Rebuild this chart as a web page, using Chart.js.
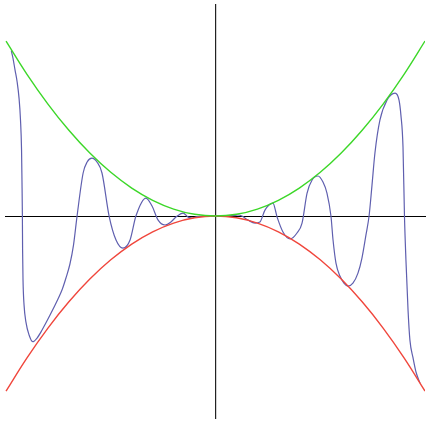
<!DOCTYPE html>
<html>
<head>
<meta charset="utf-8">
<script src="https://cdn.jsdelivr.net/npm/chart.js@4"></script>
<style>
html,body{margin:0;padding:0;background:#fff;}
canvas{display:block;}
</style>
</head>
<body>
<canvas id="c" width="429" height="425"></canvas>
<script>
// Blue oscillating curve
const waveX = [-0.975,-0.967,-0.957,-0.947,-0.938,-0.931,-0.926,-0.924,-0.922,-0.921,-0.919,-0.914,-0.905,-0.890,-0.873,-0.852,-0.828,-0.790,-0.752,-0.733,-0.714,-0.695,-0.678,-0.661,-0.632,-0.613,-0.590,-0.566,-0.542,-0.508,-0.475,-0.442,-0.408,-0.380,-0.332,-0.303,-0.274,-0.241,-0.213,-0.189,-0.155,-0.131,-0.112,-0.088,-0.050,0.000,0.045,0.084,0.107,0.126,0.155,0.189,0.212,0.236,0.274,0.294,0.322,0.356,0.389,0.413,0.437,0.461,0.489,0.513,0.532,0.551,0.561,0.575,0.594,0.613,0.632,0.656,0.680,0.699,0.718,0.733,0.747,0.761,0.785,0.819,0.857,0.876,0.885,0.895,0.902,0.909,0.919,0.928,0.943,0.957,0.976];
const waveY = [0.945,0.903,0.834,0.766,0.674,0.549,0.377,0.206,0.000,-0.194,-0.366,-0.509,-0.606,-0.680,-0.718,-0.697,-0.651,-0.566,-0.474,-0.423,-0.354,-0.274,-0.166,0.000,0.246,0.309,0.331,0.309,0.246,0.000,-0.137,-0.183,-0.137,0.000,0.103,0.057,-0.023,-0.051,-0.034,-0.006,0.017,-0.006,-0.011,-0.003,0.000,0.000,0.000,0.003,0.006,0.000,-0.023,-0.040,-0.034,0.034,0.074,-0.006,-0.091,-0.131,-0.097,-0.040,0.131,0.206,0.229,0.194,0.131,0.000,-0.137,-0.269,-0.343,-0.383,-0.400,-0.383,-0.326,-0.240,-0.109,0.000,0.177,0.360,0.549,0.663,0.703,0.663,0.577,0.394,0.000,-0.251,-0.537,-0.709,-0.811,-0.891,-0.954];
// Envelope curves
const envX = [-1.0,-0.9,-0.8,-0.7,-0.6,-0.5,-0.4,-0.3,-0.2,-0.1,0.0,0.1,0.2,0.3,0.4,0.5,0.6,0.7,0.8,0.9,1.0];
const upperY = [1.00,0.81,0.64,0.49,0.36,0.25,0.16,0.09,0.04,0.01,0.00,0.01,0.04,0.09,0.16,0.25,0.36,0.49,0.64,0.81,1.00];
const lowerY = [-1.00,-0.81,-0.64,-0.49,-0.36,-0.25,-0.16,-0.09,-0.04,-0.01,0.00,-0.01,-0.04,-0.09,-0.16,-0.25,-0.36,-0.49,-0.64,-0.81,-1.00];

const pts = (xs, ys) => xs.map((x, i) => ({x: x, y: ys[i]}));

new Chart(document.getElementById('c'), {
  type: 'line',
  data: {
    datasets: [
      {data: pts(envX, upperY), borderColor: 'rgb(60,215,40)', borderWidth: 1.4, pointRadius: 0, tension: 0.4, fill: false},
      {data: pts(envX, lowerY), borderColor: 'rgb(240,70,60)', borderWidth: 1.4, pointRadius: 0, tension: 0.4, fill: false},
      {data: pts(waveX, waveY), borderColor: 'rgb(95,95,175)', borderWidth: 1.2, pointRadius: 0, cubicInterpolationMode: 'monotone', fill: false}
    ]
  },
  options: {
    responsive: false,
    animation: false,
    layout: {padding: {left: 5, right: 4, top: 5, bottom: 7}},
    plugins: {legend: {display: false}, tooltip: {enabled: false}},
    scales: {
      x: {
        type: 'linear', min: -1.005, max: 1.0,
        position: {y: 0},
        grid: {display: false},
        ticks: {display: false},
        border: {display: true, color: '#000', width: 1}
      },
      y: {
        type: 'linear', min: -1.154, max: 1.206,
        position: {x: 0},
        grid: {display: false},
        ticks: {display: false},
        border: {display: true, color: '#222', width: 1.2}
      }
    }
  }
});
</script>
</body>
</html>
